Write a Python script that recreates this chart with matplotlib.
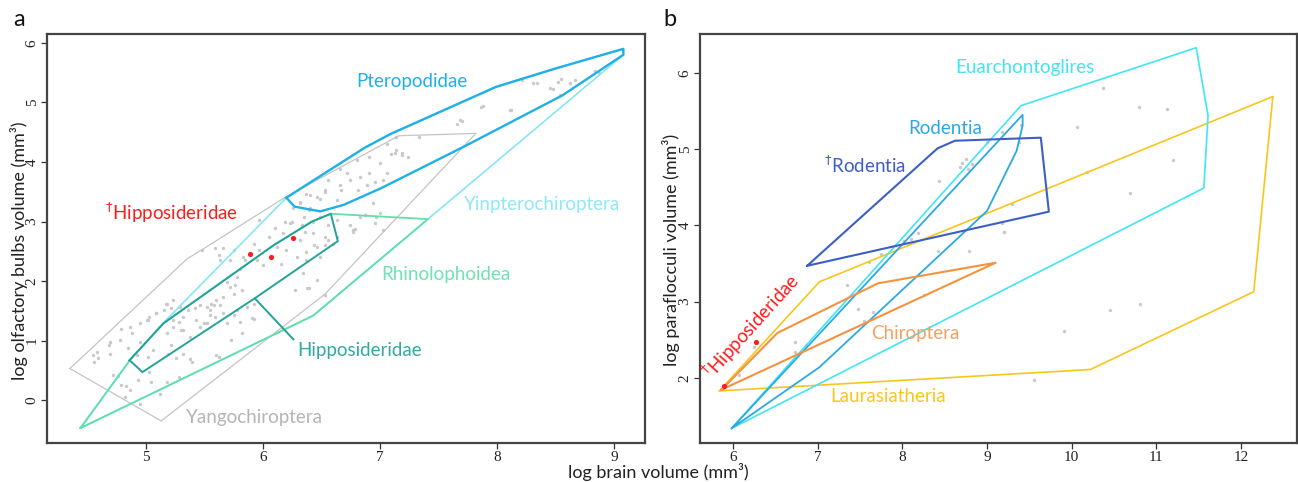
import numpy as np
import matplotlib
matplotlib.use("Agg")
from matplotlib import pyplot as plt

plt.rcParams['font.family'] = ['Lato', 'DejaVu Sans']
plt.rcParams['mathtext.fontset'] = 'dejavusans'

# ---------------- panel a : olfactory bulbs ----------------
# species cloud
a_dots_x = [5.17, 5.21, 5.09, 5.02, 4.95, 4.86, 4.79, 4.88, 4.78, 4.69, 4.68, 4.95, 4.85, 4.69, 4.58, 4.55,
            4.59, 4.56, 4.92, 5.02, 5.06, 5.18, 5.23, 5.28, 5.30, 5.21, 5.26, 5.19, 4.72, 4.79, 4.86, 4.93,
            5.03, 5.18, 4.82, 4.95, 5.12, 5.28,
            5.48, 5.62, 5.66, 5.72, 5.80, 5.85, 5.78, 5.69, 5.72, 5.76, 5.82, 5.75, 5.66, 5.60, 5.58, 5.52,
            5.55, 5.46, 5.42, 5.36, 5.29, 5.23, 5.18, 5.15, 5.09, 5.03, 5.01, 5.23, 5.32, 5.43, 5.52, 5.59,
            5.66, 5.78, 5.86, 5.92,
            5.97, 6.19, 6.23, 6.10, 6.32, 6.37, 6.46, 6.53, 6.40, 6.17, 6.05, 5.92, 5.97, 6.12, 6.20, 6.32,
            6.43, 6.46, 6.53, 6.29, 6.37, 6.49, 5.75, 5.63, 5.59, 5.83, 5.95, 6.00, 6.15,
            6.32, 6.40, 6.49, 6.53, 6.63, 6.67, 6.66, 6.74, 6.81, 6.89, 6.96, 7.03, 7.06, 6.91, 6.83, 6.72,
            6.66, 6.80, 6.91, 7.00, 7.09, 7.14, 7.19, 7.06, 6.56, 6.39, 6.25, 6.35, 6.26, 6.94, 7.00, 6.83,
            6.74, 6.63, 6.56, 6.49,
            8.21, 8.31, 8.45, 8.52, 8.62, 8.67, 8.54, 7.86, 8.11, 7.68, 7.66, 7.33, 7.14, 7.19, 7.24, 7.13,
            8.84, 8.34, 8.55, 8.48, 8.87, 7.88, 8.12, 7.70,
            5.32, 5.38, 5.46, 5.50, 5.55, 5.69, 5.75, 5.80, 5.82, 5.73, 5.92, 5.60, 5.39, 5.32, 5.56, 5.63,
            6.12,
            6.33, 6.36, 6.43, 6.37, 6.44, 6.53, 6.56, 6.60, 6.63, 6.77, 6.96, 7.03, 6.87, 6.34, 6.46, 6.39,
            6.53, 6.27, 6.38, 5.91, 6.79, 6.97, 6.87, 6.77, 5.62, 5.38, 4.83, 5.04, 4.76]
a_dots_y = [1.62, 1.54, 1.46, 1.34, 1.29, 1.23, 1.20, 1.12, 1.01, 0.98, 0.92, 0.98, 0.87, 0.78, 0.81, 0.76,
            0.70, 0.64, 0.76, 0.73, 0.84, 1.12, 1.23, 1.32, 1.18, 0.92, 0.70, 0.78, 0.42, 0.25, 0.17, 0.34,
            0.48, 0.31, 0.06, -0.06, 0.11, 0.39,
            2.52, 2.44, 2.55, 2.35, 2.21, 2.35, 2.07, 1.99, 1.90, 1.93, 1.85, 1.79, 1.74, 1.68, 1.60, 1.57,
            1.51, 1.60, 1.54, 1.51, 1.57, 1.68, 1.62, 1.51, 1.46, 1.40, 1.34, 1.34, 1.40, 1.34, 1.29, 1.40,
            1.46, 1.51, 1.57, 1.62,
            3.03, 3.00, 2.97, 2.89, 3.31, 3.47, 3.42, 3.53, 3.22, 2.80, 2.74, 2.63, 2.52, 2.58, 2.52, 2.69,
            2.80, 2.58, 2.74, 2.41, 2.35, 2.41, 2.52, 2.35, 2.55, 2.41, 2.35, 2.27, 2.29,
            3.33, 3.44, 3.38, 3.50, 3.36, 3.53, 3.61, 3.70, 3.53, 3.61, 3.67, 3.70, 3.81, 3.81, 3.75, 3.81,
            3.89, 4.03, 4.09, 3.98, 4.14, 4.20, 4.12, 4.31, 3.70, 3.19, 3.00, 3.08, 3.22, 3.31, 3.14, 3.08,
            2.94, 3.03, 2.94, 3.08,
            5.38, 5.32, 5.24, 5.35, 5.32, 5.38, 5.13, 4.93, 4.87, 4.71, 4.64, 4.42, 4.42, 4.15, 4.09, 4.15,
            5.52, 5.33, 5.39, 5.23, 5.49, 4.94, 4.88, 4.69,
            1.18, 1.06, 1.23, 1.29, 1.43, 1.29, 1.43, 1.32, 1.12, 1.01, 1.37, 0.76, 0.64, 0.78, 1.62, 1.60,
            1.15,
            2.94, 2.83, 3.00, 2.49, 2.60, 2.60, 2.69, 2.63, 2.74, 2.83, 2.97, 2.86, 3.11, 2.13, 2.02, 1.88,
            1.76, 1.85, 1.88, 1.38, 2.87, 3.07, 3.11, 2.86, 0.72, 0.69, 0.24, 0.30, 0.41]

fossil_a_x = [5.89, 6.07, 6.26]
fossil_a_y = [2.45, 2.41, 2.73]

yango_x = [4.35, 5.13, 6.53, 7.82, 7.16, 6.20, 5.49, 5.35, 4.35]
yango_y = [0.53, -0.35, 1.78, 4.48, 4.44, 3.42, 2.54, 2.37, 0.53]
yinpt_x = [4.44, 6.43, 7.41, 9.08, 9.08, 8.50, 7.99, 7.09, 6.87, 6.20, 5.15, 4.87, 4.44]
yinpt_y = [-0.47, 1.42, 3.04, 5.80, 5.90, 5.57, 5.26, 4.47, 4.24, 3.40, 1.30, 0.69, -0.47]
rhino_x = [4.44, 6.43, 7.41, 6.58, 6.42, 6.09, 5.15, 4.87, 4.44]
rhino_y = [-0.47, 1.42, 3.04, 3.13, 3.00, 2.60, 1.29, 0.69, -0.47]
hippo_x = [4.86, 4.97, 5.93, 6.64, 6.58, 6.42, 6.09, 5.15, 4.86]
hippo_y = [0.67, 0.47, 1.71, 2.67, 3.13, 3.00, 2.60, 1.29, 0.67]
hippo_ptr_x = [5.93, 6.26]
hippo_ptr_y = [1.71, 1.02]
ptero_x = [6.20, 6.27, 6.49, 6.69, 7.01, 7.73, 8.56, 9.08, 9.08, 8.50, 7.99, 7.09, 6.87, 6.20]
ptero_y = [3.40, 3.25, 3.17, 3.28, 3.56, 4.27, 5.12, 5.80, 5.90, 5.57, 5.26, 4.47, 4.24, 3.40]

# ---------------- panel b : paraflocculi ----------------
b_dots_x = [8.43, 8.70, 8.75, 8.82, 8.77, 8.68, 9.20, 9.30, 9.38, 10.06, 10.37, 10.79, 11.13, 11.20,
            10.18, 10.69, 10.81, 10.45, 9.91, 9.55, 9.20, 9.18, 8.79, 8.42, 8.19, 8.10, 8.02, 7.75, 7.60,
            7.35, 7.48, 7.65, 7.55, 8.26, 6.73, 6.73, 6.86, 6.25, 6.07, 9.40, 9.18, 9.00]
b_dots_y = [4.58, 4.82, 4.87, 4.80, 4.74, 4.76, 3.91, 4.28, 5.09, 5.29, 5.80, 5.55, 5.53, 4.86,
            4.70, 4.43, 2.97, 2.89, 2.61, 1.97, 3.91, 4.03, 3.66, 3.67, 3.90, 3.82, 3.79, 3.62, 3.52,
            3.22, 2.91, 2.87, 2.74, 3.09, 2.47, 2.34, 2.43, 2.41, 2.04, 5.31, 5.22, 5.09]

fossil_b_x = [5.89, 6.27]
fossil_b_y = [1.89, 2.47]

euarch_x = [5.985, 11.56, 11.61, 11.47, 9.40, 5.985]
euarch_y = [1.34, 4.49, 5.44, 6.33, 5.57, 1.34]
rod_x = [5.985, 9.42, 9.42, 9.35, 9.00, 7.02, 5.985]
rod_y = [1.34, 5.45, 5.31, 4.98, 4.19, 2.14, 1.34]
frod_x = [6.875, 8.415, 8.62, 9.635, 9.73, 6.875]
frod_y = [3.47, 5.01, 5.11, 5.15, 4.18, 3.47]
laura_x = [5.84, 7.02, 12.375, 12.15, 10.22, 5.84]
laura_y = [1.83, 3.26, 5.69, 3.13, 2.11, 1.83]
chiro_x = [5.864, 6.525, 7.71, 9.10, 5.864]
chiro_y = [1.846, 2.59, 3.24, 3.51, 1.846]

# colours
c_dot = '#c9c9c9'
c_red = '#ff1c1c'
c_yango = '#c4c4c4'
c_yinpt = '#86e6f8'
c_rhino = '#5fe0a9'
c_hippo = '#23a39b'
c_ptero = '#1fb0ea'
c_euarch = '#40e6f2'
c_rod = '#2aa9e4'
c_frod = '#3d5ec6'
c_laura = '#f9c61c'
c_chiro = '#f59240'

fig = plt.figure(figsize=(12.98, 4.82), dpi=100)
ax1 = fig.add_axes([0.0362, 0.081, 0.4607, 0.8485])
ax2 = fig.add_axes([0.5393, 0.081, 0.4599, 0.8485])

tick_font = dict(family=['Liberation Serif', 'DejaVu Serif'], size=11)
dag = r'$^{\dagger}$'


def style(ax, xlim, ylim, xt, yt):
    ax.set_xlim(*xlim)
    ax.set_ylim(*ylim)
    ax.set_xticks(xt)
    ax.set_yticks(yt)
    ax.set_xticklabels([str(v) for v in xt], **tick_font)
    ax.set_yticklabels([str(v) for v in yt], rotation=90, va='center', **tick_font)
    ax.tick_params(direction='out', length=4, width=0.9, color='#333333', pad=2, labelcolor='#222222')
    for s in ax.spines.values():
        s.set_color('#444444')
        s.set_linewidth(1.6)


# panel a
ax1.scatter(a_dots_x, a_dots_y, s=6, color=c_dot, lw=0, zorder=1)
ax1.plot(yango_x, yango_y, color=c_yango, lw=0.9, zorder=2)
ax1.plot(yinpt_x, yinpt_y, color=c_yinpt, lw=1.2, zorder=2)
ax1.plot(rhino_x, rhino_y, color=c_rhino, lw=1.3, zorder=3)
ax1.plot(hippo_x, hippo_y, color=c_hippo, lw=1.4, zorder=4)
ax1.plot(hippo_ptr_x, hippo_ptr_y, color=c_hippo, lw=1.4, zorder=4)
ax1.plot(ptero_x, ptero_y, color=c_ptero, lw=1.7, zorder=4)
ax1.scatter(fossil_a_x, fossil_a_y, s=14, color=c_red, lw=0, zorder=5)

lab = dict(fontsize=13.5, va='center', ha='left')
ax1.text(6.80, 5.36, 'Pteropodidae', color=c_ptero, **lab)
ax1.text(7.72, 3.29, 'Yinpterochiroptera', color='#8ee8f8', **lab)
ax1.text(7.01, 2.11, 'Rhinolophoidea', color='#6fe3b3', **lab)
ax1.text(6.29, 0.83, 'Hipposideridae', color='#30aaa3', **lab)
ax1.text(5.34, -0.29, 'Yangochiroptera', color='#b5b5b5', **lab)
ax1.text(4.65, 3.15, dag + 'Hipposideridae', color=c_red, **lab)
style(ax1, (4.154, 9.265), (-0.72, 6.15), [5, 6, 7, 8, 9], [0, 1, 2, 3, 4, 5, 6])

# panel b
ax2.scatter(b_dots_x, b_dots_y, s=6, color=c_dot, lw=0, zorder=1)
ax2.plot(laura_x, laura_y, color=c_laura, lw=1.2, zorder=2)
ax2.plot(euarch_x, euarch_y, color=c_euarch, lw=1.2, zorder=2)
ax2.plot(rod_x, rod_y, color=c_rod, lw=1.3, zorder=3)
ax2.plot(frod_x, frod_y, color=c_frod, lw=1.5, zorder=3)
ax2.plot(chiro_x, chiro_y, color=c_chiro, lw=1.5, zorder=4)
ax2.scatter(fossil_b_x, fossil_b_y, s=14, color=c_red, lw=0, zorder=5)

ax2.text(8.63, 6.07, 'Euarchontoglires', color=c_euarch, **lab)
ax2.text(8.07, 5.27, 'Rodentia', color=c_rod, **lab)
ax2.text(7.07, 4.79, dag + 'Rodentia', color=c_frod, **lab)
ax2.text(7.63, 2.58, 'Chiroptera', color='#f5a060', **lab)
ax2.text(7.15, 1.75, 'Laurasiatheria', color=c_laura, **lab)
ax2.text(6.22, 2.68, dag + 'Hipposideridae', color=c_red, fontsize=13.5, rotation=48,
         rotation_mode='anchor', ha='center', va='center')
style(ax2, (5.61, 12.66), (1.147, 6.51), [6, 7, 8, 9, 10, 11, 12], [2, 3, 4, 5, 6])

# shared labels
fig.text(658 / 1298, 1 - 472 / 482, 'log brain volume (mm\u00b3)', fontsize=13, ha='center', va='center', color='#222222')
fig.text(19 / 1298, 1 - 251 / 482, 'log olfactory bulbs volume (mm\u00b3)', fontsize=13, rotation=90,
         ha='center', va='center', color='#222222')
fig.text(671 / 1298, 1 - 250 / 482, 'log paraflocculi volume (mm\u00b3)', fontsize=13, rotation=90,
         ha='center', va='center', color='#222222')
fig.text(19 / 1298, 1 - 20 / 482, 'a', fontsize=17, ha='center', va='center', color='#111111')
fig.text(670 / 1298, 1 - 20 / 482, 'b', fontsize=17, ha='center', va='center', color='#111111')

fig.savefig('out.png', dpi=100, facecolor='white')
